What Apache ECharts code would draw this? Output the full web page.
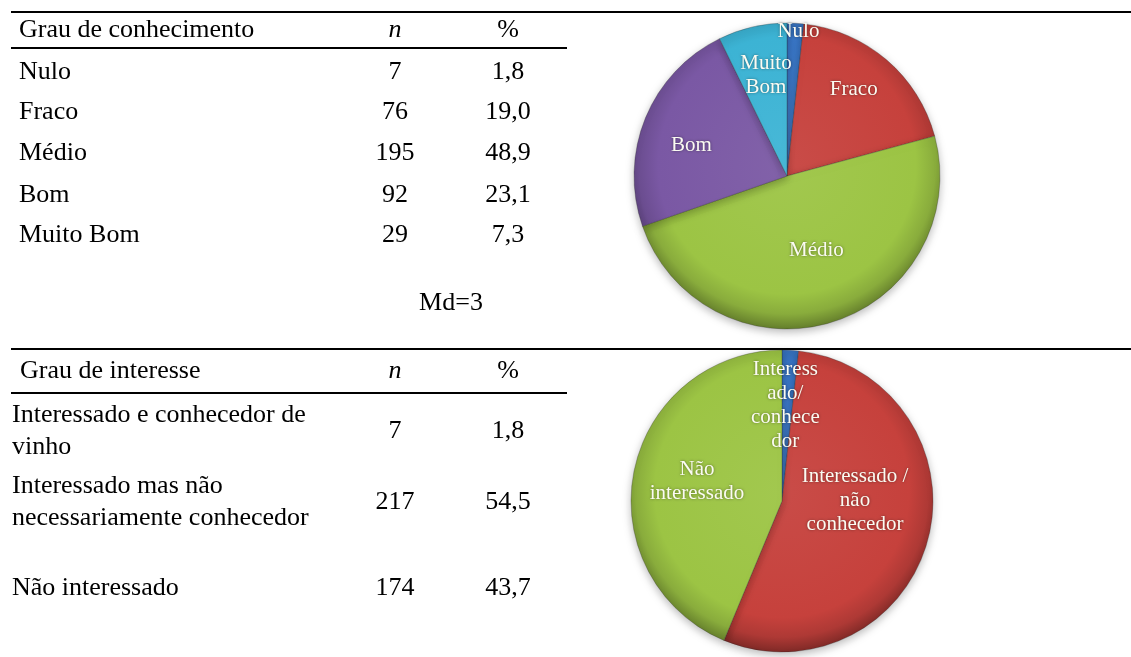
<!DOCTYPE html>
<html>
<head>
<meta charset="utf-8">
<script src="https://cdn.jsdelivr.net/npm/echarts@6/dist/echarts.min.js"></script>
<style>
  html, body { margin: 0; padding: 0; background: #ffffff; }
  #chart { width: 1131px; height: 657px; }
</style>
</head>
<body>
<div id="chart"></div>
<script>
// ---- Grau de conhecimento ----
const conhecimentoHeader = 'Grau de conhecimento';
const conhecimentoCats = ['Nulo', 'Fraco', 'Médio', 'Bom', 'Muito Bom'];
const conhecimentoN = [7, 76, 195, 92, 29];
const conhecimentoPct = [1.8, 19.0, 48.9, 23.1, 7.3];
const conhecimentoPieLabels = ['Nulo', 'Fraco', 'Médio', 'Bom', 'Muito\nBom'];
const conhecimentoMediana = 'Md=3';

// ---- Grau de interesse ----
const interesseHeader = 'Grau de interesse';
const interesseCats = ['Interessado e conhecedor de\nvinho', 'Interessado mas não\nnecessariamente conhecedor', 'Não interessado'];
const interesseN = [7, 217, 174];
const interessePct = [1.8, 54.5, 43.7];
const interessePieLabels = ['Interess\nado/\nconhece\ndor', 'Interessado /\nnão\nconhecedor', 'Não\ninteressado'];

const colHeaders = ['n', '%'];

// ---- layout / style ----
const SERIF = '"Liberation Serif", "Times New Roman", "DejaVu Serif", serif';
const TABLE_FONT = 26;
const colNX = 395, colPctX = 508;
const lineLeft = 11, lineRight = 1131, headerLineRight = 567;

const sliceColors = ['#3875c5', '#c6413c', '#9cc444', '#7a58a4', '#3cb3d4'];

const topPie = { cx: 787, cy: 176, r: 153 };
const bottomPie = { cx: 782, cy: 501, r: 151 };

// label nudges relative to the default inside position
const topLabelShift = [[7, -65], [15, -26], [6, -1], [-22, 0], [-3, -23]];
const bottomLabelShift = [[-1, -17], [-3, -20], [-8, -4]];

function shade(hex, f) {
  const n = parseInt(hex.slice(1), 16);
  let r = (n >> 16) & 255, g = (n >> 8) & 255, b = n & 255;
  if (f >= 0) { r += (255 - r) * f; g += (255 - g) * f; b += (255 - b) * f; }
  else { r *= 1 + f; g *= 1 + f; b *= 1 + f; }
  return 'rgb(' + Math.round(r) + ',' + Math.round(g) + ',' + Math.round(b) + ')';
}

// soft bevel: lighter centre, darker rim, rim heavier towards the bottom
function bevelFill(base, pie) {
  return {
    type: 'radial', global: true,
    x: pie.cx, y: pie.cy - pie.r * 0.07, r: pie.r * 1.08,
    colorStops: [
      { offset: 0, color: shade(base, 0.06) },
      { offset: 0.78, color: base },
      { offset: 0.9, color: shade(base, -0.12) },
      { offset: 1, color: shade(base, -0.38) }
    ]
  };
}

function fmtPct(v) { return v.toFixed(1).replace('.', ','); }

function pieSeries(pie, names, values, labels, shifts) {
  return {
    type: 'pie',
    center: [pie.cx, pie.cy],
    radius: [0, pie.r],
    startAngle: 90,
    clockwise: true,
    animation: false,
    silent: true,
    data: values.map((v, i) => ({
      name: names[i],
      value: v,
      itemStyle: {
        color: bevelFill(sliceColors[i], pie),
        borderColor: 'rgba(40,40,40,0.4)',
        borderWidth: 0.7,
        shadowBlur: 8,
        shadowColor: 'rgba(0,0,0,0.28)',
        shadowOffsetY: 3
      },
      label: { formatter: labels[i] }
    })),
    label: {
      show: true,
      position: 'inside',
      color: '#fbfbf2',
      fontFamily: SERIF,
      fontSize: 21,
      lineHeight: 24,
      textShadowColor: 'rgba(0,0,0,0.45)',
      textShadowBlur: 3,
      textBorderWidth: 0
    },
    labelLine: { show: false },
    labelLayout: function (p) {
      const s = shifts[p.dataIndex];
      return {
        x: p.labelRect.x + p.labelRect.width / 2 + s[0],
        y: p.labelRect.y + p.labelRect.height / 2 + s[1],
        align: 'center',
        verticalAlign: 'middle'
      };
    }
  };
}

function txt(text, x, y, opts) {
  return {
    type: 'text', x: x, y: y, silent: true,
    style: Object.assign({
      text: text, fill: '#000', font: TABLE_FONT + 'px ' + SERIF,
      align: 'left', verticalAlign: 'middle', lineHeight: 31.5
    }, opts || {})
  };
}

function hline(x1, x2, y, w) {
  return { type: 'line', silent: true, shape: { x1: x1, y1: y, x2: x2, y2: y }, style: { stroke: '#000', lineWidth: w } };
}

const graphics = [];

// top table
graphics.push(hline(lineLeft, lineRight, 12, 2.2));
graphics.push(hline(lineLeft, headerLineRight, 48, 1.8));
graphics.push(txt(conhecimentoHeader, 19, 30));
graphics.push(txt(colHeaders[0], colNX, 30, { align: 'center', font: 'italic ' + TABLE_FONT + 'px ' + SERIF }));
graphics.push(txt(colHeaders[1], colPctX, 30, { align: 'center' }));
const topRowY = [72, 112, 153, 195, 235];
conhecimentoCats.forEach((c, i) => {
  graphics.push(txt(c, 19, topRowY[i]));
  graphics.push(txt(String(conhecimentoN[i]), colNX, topRowY[i], { align: 'center' }));
  graphics.push(txt(fmtPct(conhecimentoPct[i]), colPctX, topRowY[i], { align: 'center' }));
});
graphics.push(txt(conhecimentoMediana, 451, 303, { align: 'center' }));

// bottom table
graphics.push(hline(lineLeft, lineRight, 349, 2.2));
graphics.push(hline(lineLeft, headerLineRight, 393, 1.8));
graphics.push(txt(interesseHeader, 20, 371));
graphics.push(txt(colHeaders[0], colNX, 371, { align: 'center', font: 'italic ' + TABLE_FONT + 'px ' + SERIF }));
graphics.push(txt(colHeaders[1], colPctX, 371, { align: 'center' }));
const bottomRowY = [431, 502, 588];
interesseCats.forEach((c, i) => {
  graphics.push(txt(c, 12, bottomRowY[i]));
  graphics.push(txt(String(interesseN[i]), colNX, bottomRowY[i], { align: 'center' }));
  graphics.push(txt(fmtPct(interessePct[i]), colPctX, bottomRowY[i], { align: 'center' }));
});

const chart = echarts.init(document.getElementById('chart'), null, { renderer: 'canvas' });
chart.setOption({
  backgroundColor: '#ffffff',
  animation: false,
  graphic: graphics,
  series: [
    pieSeries(topPie, conhecimentoCats, conhecimentoN, conhecimentoPieLabels, topLabelShift),
    pieSeries(bottomPie, interesseCats, interesseN, interessePieLabels, bottomLabelShift)
  ]
});
</script>
</body>
</html>
